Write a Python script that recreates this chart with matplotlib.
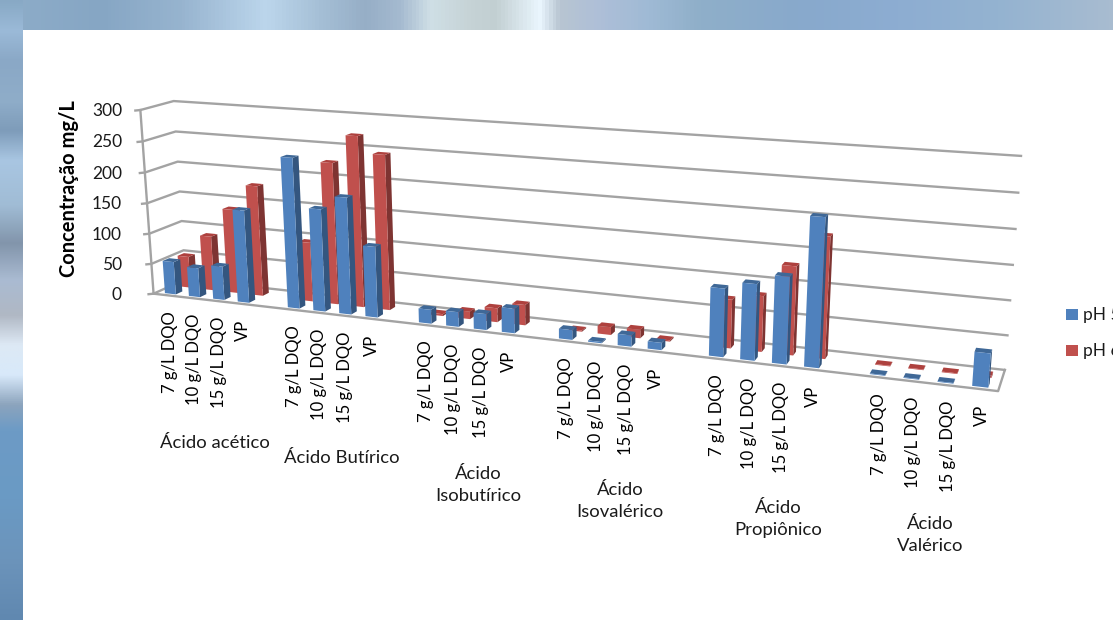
import numpy as np
import matplotlib
matplotlib.use('Agg')
import matplotlib.pyplot as plt
from matplotlib.colors import to_rgb

plt.rcParams['font.family'] = ['Lato', 'DejaVu Sans']

grupos = [['Ácido acético'], ['Ácido Butírico'], ['Ácido', 'Isobutírico'],
          ['Ácido', 'Isovalérico'], ['Ácido', 'Propiônico'], ['Ácido', 'Valérico']]
condicoes = ['7 g/L DQO', '10 g/L DQO', '15 g/L DQO', 'VP']
y_ticks = [0, 50, 100, 150, 200, 250, 300]

ph5 = [54, 48, 55, 150, 240, 163, 185, 112, 22, 23, 25, 38,
       15, 2, 17, 11, 101, 112, 127, 215, 1, 1, 1, 48]
ph6 = [52, 90, 138, 180, 96, 227, 272, 246, 3, 12, 22, 32,
       2, 12, 13, 2, 73, 83, 131, 178, 1, 1, 1, 3]

# perspective of the chart box: (u, valor/300, profundidade) -> pixel
cantos = [(0, 0, 1, 185, 280), (0, 1, 1, 174, 101), (1, 0, 1, 1005, 369), (1, 1, 1, 1021, 156),
          (0, 0, 0, 154, 293), (0, 1, 0, 140, 110), (1, 0, 0, 998, 392)]
A = []
b = []
for u, v, d, px, py in cantos:
    A.append([u, v, d, 1, 0, 0, 0, 0, -px * u, -px * v, -px * d])
    b.append(px)
    A.append([0, 0, 0, 0, u, v, d, 1, -py * u, -py * v, -py * d])
    b.append(py)
sol = np.linalg.lstsq(np.array(A, float), np.array(b, float), rcond=None)[0]
P = np.append(sol, 1).reshape(3, 4)

n_slots = 29.1
s_ini = 0.57


def proj(s, val, d):
    u = (s + s_ini) / n_slots
    q = P @ np.array([u, val / 300, d, 1])
    return q[0] / q[2], q[1] / q[2]


def quad(ax, pts, cor, z):
    xy = [proj(*p) for p in pts]
    ax.fill([p[0] for p in xy], [p[1] for p in xy], color=cor, lw=0, zorder=z)


def barra(ax, s, val, d0, d1, cores, z):
    w = 0.23
    quad(ax, [(s + w, 0, d0), (s + w, 0, d1), (s + w, val, d1), (s + w, val, d0)], cores[1], z)
    quad(ax, [(s - w, val, d0), (s + w, val, d0), (s + w, val, d1), (s - w, val, d1)], cores[2], z)
    quad(ax, [(s - w, 0, d0), (s + w, 0, d0), (s + w, val, d0), (s - w, val, d0)], cores[0], z)


def faixa(paradas, n):
    pos = [p[0] for p in paradas]
    rgb = np.array([to_rgb(p[1]) for p in paradas])
    t = np.linspace(pos[0], pos[-1], n)
    return np.stack([np.interp(t, pos, rgb[:, k]) for k in range(3)], axis=-1)


fig = plt.figure(figsize=(11.13, 6.2), dpi=100)
ax = fig.add_axes([0, 0, 1, 1])

# blurred slide background, seen only in the strips around the white panel
topo = [(0, '#8eadc9'), (100, '#86a6c4'), (180, '#97b4cf'), (265, '#bcd6ec'), (320, '#a5bfd6'),
        (365, '#96aec6'), (400, '#a5bad0'), (430, '#cfdfe6'), (470, '#c6d3d6'), (495, '#c2cfd2'),
        (540, '#eaf6fe'), (560, '#b8c5d2'), (600, '#aebfd8'), (650, '#9fbad5'), (700, '#8fafc9'),
        (800, '#88a9cc'), (900, '#8dadd2'), (1000, '#94b3d0'), (1113, '#a8bcd0')]
lado = [(0, '#88a9c5'), (30, '#9bbad8'), (60, '#8aa8c6'), (100, '#8fadc9'), (130, '#7e9cba'),
        (160, '#a9c6e2'), (205, '#a0bcd5'), (243, '#8295ab'), (280, '#aabbd2'), (315, '#b0b8c4'),
        (345, '#dde9f5'), (375, '#d8e9fa'), (405, '#8ca4bd'), (430, '#6d9bc6'), (500, '#6a9ac4'),
        (560, '#6c94bb'), (620, '#6088b0')]
ax.imshow(faixa(topo, 300)[np.newaxis, :, :], extent=(0, 1113, 30, 0), aspect='auto', zorder=0)
ax.imshow(faixa(lado, 300)[:, np.newaxis, :], extent=(0, 23, 620, 0), aspect='auto', zorder=0)
ax.set_xlim(0, 1113)
ax.set_ylim(620, 0)
ax.axis('off')

# walls and floor lines
cinza = '#A3A3A3'
s0, s1 = -s_ini, n_slots - s_ini
for t in y_ticks:
    xa, ya = proj(s0, t, 0)
    xb, yb = proj(s0, t, 1)
    xc, yc = proj(s1, t, 1)
    ax.plot([xa - 5, xa, xb, xc], [ya + 0.5, ya, yb, yc], color=cinza, lw=1.7, zorder=2)
    ax.text(122, ya + 1, str(t), ha='right', va='center', fontsize=12.5, color='#1a1a1a', zorder=6)
xa, ya = proj(s0, 0, 0)
xb, yb = proj(s0, 300, 0)
ax.plot([xa, xb], [ya, yb], color=cinza, lw=1.7, zorder=2)
pts = [proj(s0, 0, 0), proj(s1, 0, 0), proj(s1, 0, 1)]
ax.plot([p[0] for p in pts], [p[1] for p in pts], color=cinza, lw=1.7, zorder=2)

azul = ['#4F81BD', '#34567F', '#3F6897']
verm = ['#C0504D', '#7E3432', '#AE413E']

# positions: 4 bars per acid + 1 blank slot
slots = []
for g in range(len(grupos)):
    for c in range(len(condicoes)):
        slots.append(g * 5 + c)

for i, s in enumerate(slots):
    barra(ax, s, ph6[i], 0.56, 0.76, verm, 3 + i * 0.001)
for i, s in enumerate(slots):
    barra(ax, s, ph5[i], 0.10, 0.30, azul, 4 + i * 0.001)

# category labels hang from the front of the floor
for i, s in enumerate(slots):
    x, y = proj(s, 0, 0)
    ax.text(x + 3, y + 16, condicoes[i % 4], rotation=90, ha='center', va='top',
            fontsize=12, color='black', zorder=6)

pos_grupos = [(215, 443), (342, 458), (478, 485), (620, 501), (778, 519), (930, 535)]
for nomes, (x, y) in zip(grupos, pos_grupos):
    ax.text(x, y, '\n'.join(nomes), ha='center', va='center', fontsize=13.3,
            color='#1a1a1a', linespacing=1.5, zorder=6)

ax.text(69, 189, 'Concentração mg/L', rotation=90, ha='center', va='center',
        fontsize=14.5, fontweight='bold', color='black', zorder=6)

# legend, cut by the edge of the picture
ax.add_patch(plt.Rectangle((1066, 309), 12, 11, color=azul[0], lw=0, zorder=6))
ax.add_patch(plt.Rectangle((1066, 345), 12, 11, color=verm[0], lw=0, zorder=6))
ax.text(1083, 315, 'pH 5', va='center', fontsize=12.5, color='#1a1a1a', zorder=6)
ax.text(1083, 351, 'pH 6', va='center', fontsize=12.5, color='#1a1a1a', zorder=6)

fig.savefig('out.png', dpi=100)
